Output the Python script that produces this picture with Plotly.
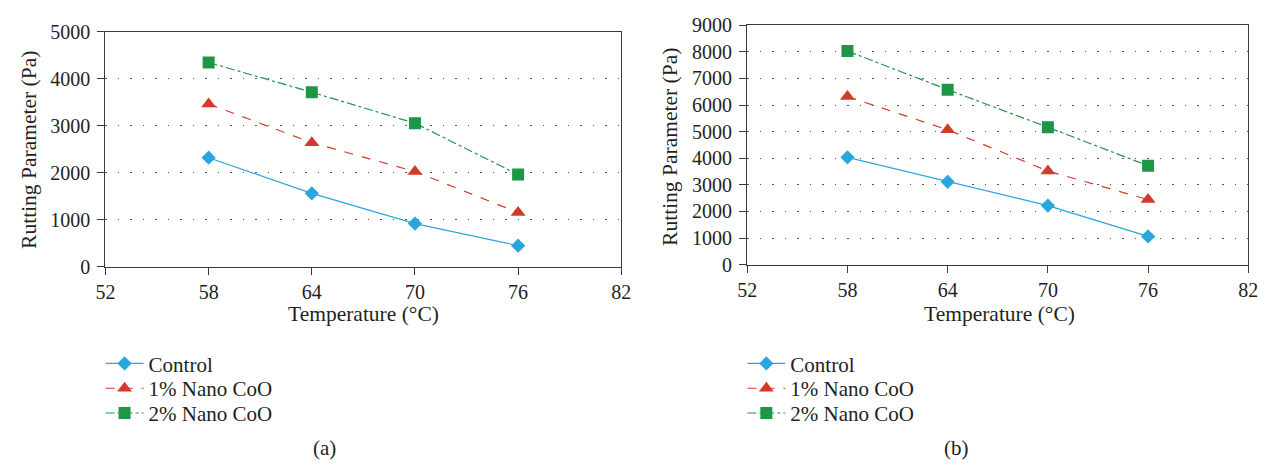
import plotly.graph_objects as go

temps = [58, 64, 70, 76]
series_names = ["Control", "1% Nano CoO", "2% Nano CoO"]

a_control = [2320, 1560, 915, 445]
a_nano1 = [3465, 2640, 2025, 1150]
a_nano2 = [4350, 3715, 3055, 1960]

b_control = [4035, 3115, 2220, 1060]
b_nano1 = [6320, 5070, 3520, 2445]
b_nano2 = [8030, 6580, 5165, 3720]

x_ticks = [52, 58, 64, 70, 76, 82]

FONT = "Liberation Serif"
TXT = "#231f20"
colors = ["#2AA6DE", "#D43A2B", "#1E9647"]
dashes = ["solid", "dash", "dashdot"]
symbols = ["diamond", "triangle-up", "square"]
msizes = [11, 13, 12]

W, H = 1277, 473

fig = go.Figure()

# one single-item legend per trace so rows can be spaced like the reference
legend_rows = [370, 396, 422]
legend_left = {"a": 92, "b": 744}
panels = [
    ("a", [a_control, a_nano1, a_nano2], "x", "y", 1),
    ("b", [b_control, b_nano1, b_nano2], "x2", "y2", 4),
]
legend_layouts = {}
for key, vals, xa, ya, lstart in panels:
    for i, v in enumerate(vals):
        lname = "legend" if lstart + i == 1 else f"legend{lstart + i}"
        fig.add_trace(go.Scatter(
            x=temps, y=v, name=series_names[i], mode="lines+markers",
            line=dict(color=colors[i], width=1.2, dash=dashes[i]),
            marker=dict(symbol=symbols[i], size=msizes[i], color=colors[i]),
            xaxis=xa, yaxis=ya, legend=lname,
        ))
        legend_layouts[lname] = dict(
            x=legend_left[key] / W, y=1 - legend_rows[i] / H,
            xanchor="left", yanchor="middle", itemwidth=38,
            font=dict(family=FONT, size=21, color=TXT),
            bgcolor="rgba(0,0,0,0)",
        )

axis_common = dict(
    showline=True, linecolor="#3a3a3a", linewidth=1.3, mirror=True,
    ticks="outside", ticklen=7, tickcolor="#3a3a3a", tickwidth=1.2,
    tickfont=dict(family=FONT, size=20, color=TXT),
    zeroline=False,
)
grid = dict(showgrid=True, gridcolor="#555", griddash="1.5px,11px", gridwidth=1.3)

fig.update_layout(
    width=W, height=H,
    margin=dict(l=0, r=0, t=0, b=0),
    paper_bgcolor="white", plot_bgcolor="white",
    font=dict(family=FONT, size=21, color=TXT),
    xaxis=dict(domain=[97/W, 621/W], range=[52, 82], tickvals=x_ticks,
               showgrid=False, anchor="y", ticklabelstandoff=0, **axis_common),
    yaxis=dict(domain=[1-268/H, 1-22/H], range=[0, 5000], dtick=1000,
               anchor="x", ticklabelstandoff=3, **grid, **axis_common),
    xaxis2=dict(domain=[749/W, 1258/W], range=[52, 82], tickvals=x_ticks,
                showgrid=False, anchor="y2", ticklabelstandoff=0, **axis_common),
    yaxis2=dict(domain=[1-266/H, 1-15/H], range=[0, 9000], dtick=1000,
                anchor="x2", ticklabelstandoff=3, **grid, **axis_common),
    showlegend=True,
    **legend_layouts,
)

annos = [
    dict(text="Rutting Parameter (Pa)", x=20/W, y=1-146/H, textangle=-90,
         yanchor="middle", size=21.5),
    dict(text="Rutting Parameter (Pa)", x=671/W, y=1-142/H, textangle=-90,
         yanchor="middle", size=21.5),
    dict(text="Temperature (°C)", x=359/W, y=1-318/H, yanchor="middle", size=21.5),
    dict(text="Temperature (°C)", x=1005/W, y=1-318/H, yanchor="middle", size=21.5),
    dict(text="(a)", x=320/W, y=0, yanchor="bottom", size=21),
    dict(text="(b)", x=962/W, y=0, yanchor="bottom", size=21),
]
for a in annos:
    size = a.pop("size")
    fig.add_annotation(xref="paper", yref="paper", showarrow=False,
                       xanchor="center",
                       font=dict(family=FONT, size=size, color=TXT), **a)

fig.write_html("out.html")
